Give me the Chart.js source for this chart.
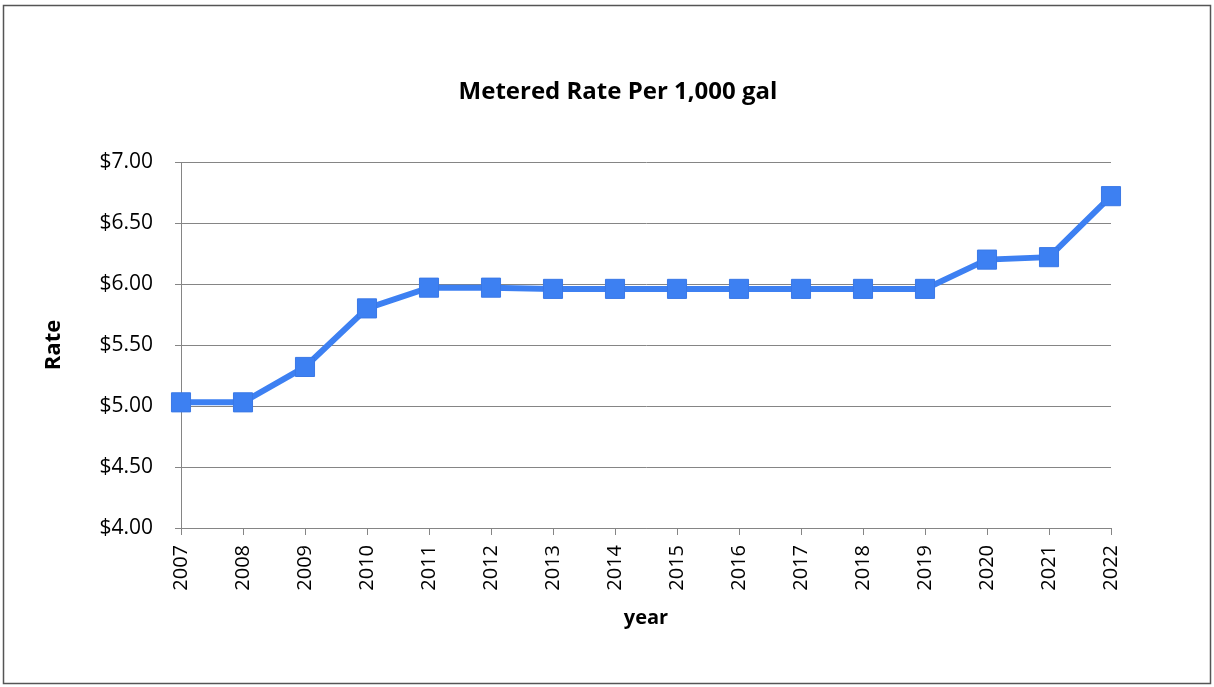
<!DOCTYPE html>
<html>
<head>
<meta charset="utf-8">
<script src="https://cdn.jsdelivr.net/npm/chart.js@4"></script>
<style>
  html, body { margin: 0; padding: 0; background: #fff; }
  #wrap { width: 1214px; height: 687px; }
</style>
</head>
<body>
<div id="wrap"><canvas id="rate-chart" width="1214" height="687"></canvas></div>
<script>
// ─── Data ───
const years = ['2007','2008','2009','2010','2011','2012','2013','2014','2015',
               '2016','2017','2018','2019','2020','2021','2022'];
const rates = [5.03, 5.03, 5.32, 5.80, 5.97, 5.97, 5.96, 5.96, 5.96,
               5.96, 5.96, 5.96, 5.96, 6.20, 6.22, 6.72];
const yTicks = [4.00, 4.50, 5.00, 5.50, 6.00, 6.50, 7.00];
const TITLE = 'Metered Rate Per 1,000 gal';

const FONT = '"Open Sans", "Noto Sans", sans-serif';
const BLUE = '#3d80f2';
const GRID = '#858585';

// ─── Outer frame + title (title sits centred on the frame, not on the plot) ───
const framePlugin = {
  id: 'frame',
  beforeDraw(chart) {
    const ctx = chart.ctx;
    ctx.save();
    ctx.fillStyle = '#fff';
    ctx.fillRect(0, 0, chart.width, chart.height);
    ctx.strokeStyle = '#555';
    ctx.lineWidth = 1.5;
    ctx.strokeRect(3.5, 5.5, 1207, 678);
    ctx.restore();
  },
  afterDraw(chart) {
    const ctx = chart.ctx;
    ctx.save();
    ctx.font = `bold 24px ${FONT}`;
    ctx.fillStyle = '#000';
    ctx.textAlign = 'center';
    ctx.textBaseline = 'middle';
    ctx.fillText(TITLE, chart.width / 2 + 11, chart.chartArea.top - 70);
    ctx.restore();
  }
};

Chart.defaults.font.family = FONT;
Chart.defaults.color = '#000';

new Chart(document.getElementById('rate-chart').getContext('2d'), {
  type: 'line',
  data: {
    labels: years,
    datasets: [{
      label: 'Rate',
      data: rates,
      borderColor: BLUE,
      backgroundColor: BLUE,
      borderWidth: 6,
      pointStyle: 'rect',
      pointRadius: 13.5,
      pointBorderWidth: 1,
      pointBorderColor: '#3a78e6',
      pointBackgroundColor: BLUE,
      tension: 0,
    }],
  },
  options: {
    responsive: false,
    animation: false,
    layout: { padding: { top: 162, left: 0, right: 103, bottom: 0 } },
    plugins: {
      legend: { display: false },
      tooltip: { enabled: false },
      title: { display: false },
    },
    scales: {
      x: {
        offset: false,
        grid: { display: true, drawOnChartArea: false, drawTicks: true, tickLength: 7, color: GRID },
        border: { display: true, color: GRID, width: 1 },
        ticks: { minRotation: 90, maxRotation: 90, autoSkip: false, padding: 10, font: { size: 20 }, color: '#000' },
        title: { display: true, text: 'year', font: { size: 20, weight: 'bold' }, color: '#000', padding: { top: 0, bottom: 57 } },
        afterFit(s) { s.height = 159; },
      },
      y: {
        min: 4, max: 7,
        afterBuildTicks(s) { s.ticks = yTicks.map(v => ({ value: v })); },
        grid: { color: GRID, lineWidth: 1, tickLength: 6 },
        border: { display: true, color: GRID, width: 1 },
        ticks: {
          padding: 22, font: { size: 21 }, color: '#000',
          callback: v => '$' + Number(v).toFixed(2),
        },
        title: { display: true, text: 'Rate', font: { size: 22, weight: 'bold' }, color: '#000', padding: { top: 41, bottom: 0 } },
        afterFit(s) { s.width = 181; },
      },
    },
  },
  plugins: [framePlugin],
});
</script>
</body>
</html>
